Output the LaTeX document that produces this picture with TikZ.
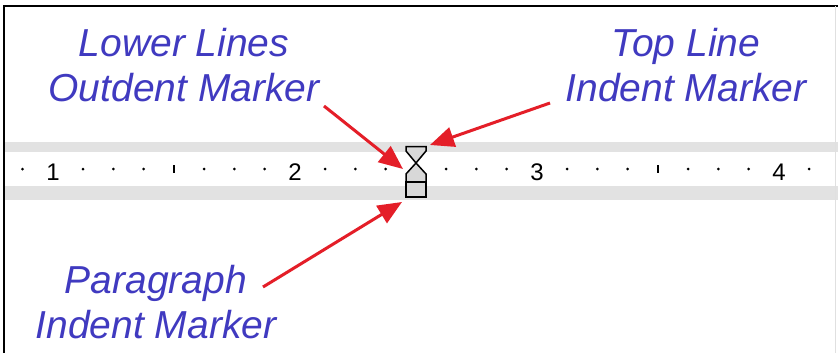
\documentclass[tikz,border=0pt]{standalone}
\usepackage{fontspec}
\setmainfont{Liberation Sans}
\usetikzlibrary{arrows.meta}
\definecolor{lblblue}{RGB}{64,58,192}
\definecolor{arrred}{RGB}{228,30,40}
\definecolor{band}{RGB}{226,226,226}
\definecolor{mfill}{RGB}{216,216,216}
\begin{document}
\begin{tikzpicture}[x=1pt,y=-1pt,
  lbltext/.style={text=lblblue, font=\fontsize{39}{45}\selectfont\itshape, align=center, inner sep=0pt, anchor=north},
  pointer/.style={draw=arrred, line width=3pt, -{Triangle[length=24pt,width=20pt]}},
  rulerdigit/.style={font=\fontsize{24}{24}\selectfont, inner sep=0pt, anchor=base},
  rulerdot/.style={fill=black, circle, inner sep=0pt, minimum size=3pt},
  markerline/.style={draw=black, line width=1.5pt, fill=mfill, line join=miter}]
\useasboundingbox (0,0) rectangle (838,353);
\fill[white] (0,0) rectangle (838,353);
% ruler bands
\fill[band] (5,142) rectangle (838,152);
\fill[band] (5,186) rectangle (838,200);
% frame
\draw[line width=1.5pt] (4,353) -- (4,6) -- (838,6);
\draw[black!12, line width=0.8pt] (835,6) -- (835,353);
% ruler dots and ticks
\foreach \k in {0,2,3,4,6,7,8,10,11,12,14,15,16,18,19,20,22,23,24,26}
  \node[rulerdot] (d\k) at ({22.5+30.25*\k},169) {};
\foreach \k in {5,21}
  \draw[line width=2.2pt] ({22.5+30.25*\k},165) -- ++(0,8);
\node[rulerdigit] (n1) at (53,180) {1};
\node[rulerdigit] (n2) at (295,180) {2};
\node[rulerdigit] (n3) at (537,180) {3};
\node[rulerdigit] (n4) at (779,180) {4};
% hourglass marker
\draw[markerline] (406,146.5) -- (426,146.5) -- (426,151) -- (416,163) -- (426,174)
  -- (426,182) -- (406,182) -- (406,174) -- (416,163) -- (406,151) -- cycle;
\draw[markerline] (406,182) rectangle (426,197);
% labels
\node[lbltext] (outdent) at (184,28) {Lower Lines\\Outdent Marker};
\node[lbltext] (topline) at (686,28) {Top Line\\Indent Marker};
\node[lbltext] (para) at (156,265) {Paragraph\\Indent Marker};
% arrows
\coordinate (s1) at (324,106); \coordinate (t1) at (403,169);
\coordinate (s2) at (550,103); \coordinate (t2) at (430,145);
\coordinate (s3) at (263,287); \coordinate (t3) at (402,202);
\draw[pointer] (s1) -- (t1);
\draw[pointer] (s2) -- (t2);
\draw[pointer] (s3) -- (t3);
\end{tikzpicture}
\end{document}
